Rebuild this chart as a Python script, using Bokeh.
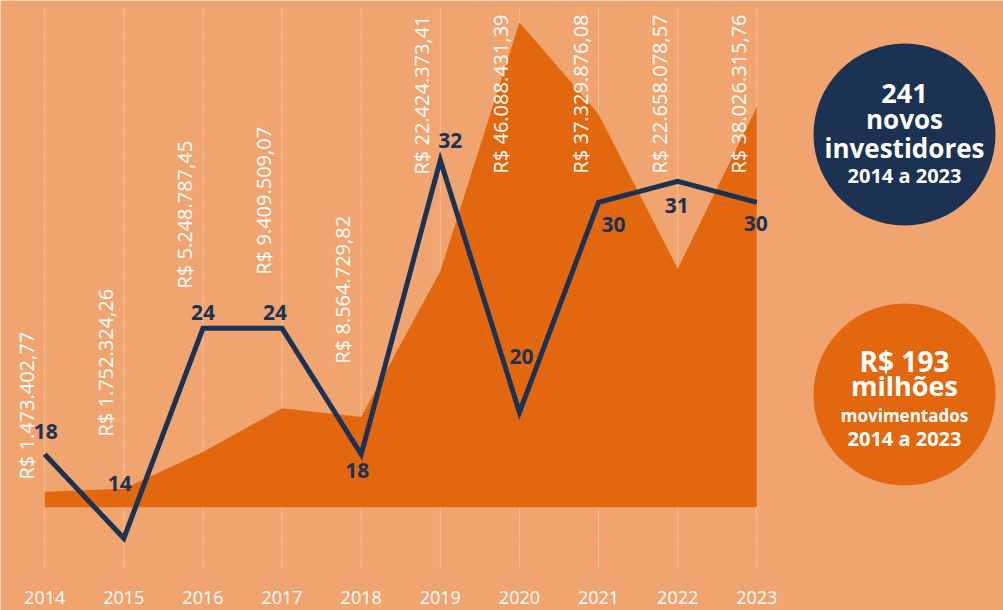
import numpy as np
from bokeh.plotting import figure
from bokeh.models import Range1d
from bokeh.core.properties import value
from bokeh.embed import file_html
from bokeh.resources import INLINE

# ---------------- data ----------------
years = [2014, 2015, 2016, 2017, 2018, 2019, 2020, 2021, 2022, 2023]
investors = [18, 14, 24, 24, 18, 32, 20, 30, 31, 30]
amounts = [1473402.77, 1752324.26, 5248787.45, 9409509.07, 8564729.82,
           22424373.41, 46088431.39, 37329876.08, 22658078.57, 38026315.76]
year_labels = [str(y) for y in years]
amount_labels = ["R$ " + f"{a:,.2f}".replace(",", "X").replace(".", ",").replace("X", ".")
                 for a in amounts]
investor_labels = [str(v) for v in investors]
kpi_investors = ["241", "novos", "investidores", "2014 a 2023"]
kpi_amount = ["R$ 193", "milhões", "movimentados", "2014 a 2023"]

# ---------------- layout / style ----------------
BG = "#F0A470"
AREA = "#E2670F"
NAVY = "#1B3253"
FONT = value("Open Sans")

W, H = 1003, 610
X0, X1 = 2013.4414, 2026.118
PX_PER_YEAR = W / (X1 - X0)

amt_label_start_px = [479, 436, 288, 274, 363, 174, 173, 173, 173, 173]
amt_label_shift = -18.5 / PX_PER_YEAR
num_dx = [1, -4, 0, -7, -4, 10, 2, 15, -1, -1]
num_dy = [-23, -55, -16, -16, 16, -20, -56, 22, 24, 21]

p = figure(width=W, height=H,
           x_range=Range1d(X0, X1),
           y_range=Range1d(-9.817e6, 48.15e6),
           x_axis_type=None, y_axis_type=None,
           output_backend="svg", toolbar_location=None,
           min_border=0, background_fill_color=BG, border_fill_color=BG,
           outline_line_color=None)
p.grid.visible = False
p.extra_y_ranges = {"inv": Range1d(10.562, 39.61), "px": Range1d(H, 0)}
p.extra_x_ranges = {"px": Range1d(0, W)}

n = len(years)
# dotted vertical guides
p.segment(x0=years, y0=[8] * n, x1=years, y1=[568] * n, y_range_name="px",
          line_color="white", line_width=1, line_dash="1 2", line_alpha=0.85)

# amount area
p.varea(x=years, y1=[0] * n, y2=amounts, fill_color=AREA)

# amount labels (rotated)
p.text(x=[y + amt_label_shift for y in years], y=amt_label_start_px, text=amount_labels,
       y_range_name="px", angle=np.pi / 2, text_align="left", text_baseline="middle",
       text_color="white", text_font=FONT, text_font_size="20px")

# investors line
p.line(years, investors, y_range_name="inv", line_color=NAVY, line_width=5,
       line_join="miter")
p.text(x=years, y=investors, text=investor_labels, y_range_name="inv",
       x_offset=num_dx, y_offset=num_dy, text_align="center", text_baseline="middle",
       text_color=NAVY, text_font=FONT, text_font_style="bold", text_font_size="21px")

# year labels
p.text(x=years, y=[597] * n, text=year_labels, y_range_name="px",
       text_align="center", text_baseline="middle", text_color="white",
       text_font=FONT, text_font_size="18px")

# KPI badges
p.scatter(x=[904, 904], y=[134, 394], x_range_name="px", y_range_name="px",
          marker="circle", size=182, fill_color=[NAVY, AREA], line_color=None)

inv_mid = [93, 118, 147, 175]
inv_size = ["27px", "26px", "26px", "20px"]
for t, ym, fs in zip(kpi_investors, inv_mid, inv_size):
    p.text(x=[904], y=[ym], text=[t], x_range_name="px", y_range_name="px",
           text_align="center", text_baseline="middle", text_color="white",
           text_font=FONT, text_font_style="bold", text_font_size=fs)

amt_mid = [360, 385, 415, 438]
amt_size = ["28px", "27px", "17px", "20px"]
for t, ym, fs in zip(kpi_amount, amt_mid, amt_size):
    p.text(x=[904], y=[ym], text=[t], x_range_name="px", y_range_name="px",
           text_align="center", text_baseline="middle", text_color="white",
           text_font=FONT, text_font_style="bold", text_font_size=fs)

open("out.html", "w").write(file_html(p, INLINE))
